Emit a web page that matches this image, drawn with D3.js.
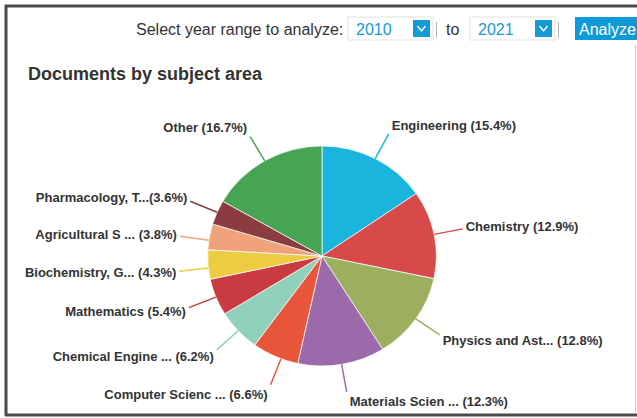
<html><head><meta charset="utf-8"><title>Documents by subject area</title>
<style>
body { margin: 0; background: #fff; font-family: Arial, "Liberation Sans", sans-serif; }
svg { display: block; }
</style>
<script src="https://d3js.org/d3.v7.min.js"></script>
</head>
<body>
<div id="chart"></div>
<script>
// data
const subjects = ["Engineering", "Chemistry", "Physics and Ast...", "Materials Scien ...",
    "Computer Scienc ...", "Chemical Engine ...", "Mathematics", "Biochemistry, G...",
    "Agricultural S ...", "Pharmacology, T...", "Other"];
const shares = [15.4, 12.9, 12.8, 12.3, 6.6, 6.2, 5.4, 4.3, 3.8, 3.6, 16.7];
const sliceColors = ["#19b5dd", "#d84949", "#9caf5f", "#9a6aab", "#e9553a", "#8fd1ba",
    "#c93a41", "#eccc40", "#f0a27b", "#8a3c41", "#46a453"];
const years = ["2010", "2021"];

const width = 637, height = 418;
const svg = d3.select("#chart").append("svg")
    .attr("width", width)
    .attr("height", height);

// frame
svg.append("path")
    .attr("d", `M6,416 V6 H637`)
    .attr("fill", "none")
    .attr("stroke", "#4a4a4a")
    .attr("stroke-width", 3);
svg.append("line")
    .attr("x1", 5).attr("x2", 637).attr("y1", 415).attr("y2", 415)
    .attr("stroke", "#4a4a4a").attr("stroke-width", 3);
svg.append("line")
    .attr("x1", 635.5).attr("x2", 635.5).attr("y1", 45).attr("y2", 414)
    .attr("stroke", "#c8c8c8").attr("stroke-width", 1);

// year range header
const head = svg.append("g").style("font-size", "16px");
head.append("text").attr("x", 136).attr("y", 35).attr("fill", "#333")
    .text("Select year range to analyze:");

function yearSelect(x, label) {
    const g = head.append("g").attr("transform", `translate(${x},17)`);
    g.append("rect").attr("width", 85).attr("height", 23)
        .attr("fill", "#fff").attr("stroke", "#e2e2e2");
    g.append("text").attr("x", 8).attr("y", 18).attr("fill", "#1a9ad6").text(label);
    g.append("rect").attr("x", 65).attr("y", 3).attr("width", 17).attr("height", 17)
        .attr("fill", "#149ad6");
    g.append("path").attr("d", "M69.5,9 L73.5,14 L77.5,9")
        .attr("fill", "none").attr("stroke", "#fff").attr("stroke-width", 1.4);
    g.append("line").attr("x1", 88.5).attr("x2", 88.5).attr("y1", 5).attr("y2", 21)
        .attr("stroke", "#b5b5b5");
}
yearSelect(348, years[0]);
head.append("text").attr("x", 446).attr("y", 35).attr("fill", "#333").text("to");
yearSelect(470, years[1]);

head.append("rect").attr("x", 575).attr("y", 17).attr("width", 70).attr("height", 23)
    .attr("fill", "#0e9ad6");
head.append("text").attr("x", 579).attr("y", 35).attr("fill", "#fff").text("Analyze");

// title
svg.append("text")
    .attr("x", 28).attr("y", 80)
    .attr("fill", "#333")
    .style("font-size", "18px")
    .style("font-weight", "bold")
    .text("Documents by subject area");

// pie
const cx = 322, cy = 256, r = 110, sx = 1.04;
const pie = d3.pie().sort(null).value(d => d);
const arc = d3.arc().innerRadius(0).outerRadius(r);
const arcs = pie(shares);

const pieG = svg.append("g")
    .attr("transform", `translate(${cx},${cy}) scale(${sx},1)`);
pieG.selectAll("path")
    .data(arcs)
    .join("path")
    .attr("d", arc)
    .attr("fill", (d, i) => sliceColors[i])
    .attr("stroke", "#fff")
    .attr("stroke-width", 0.7)
    .attr("stroke-linejoin", "round");

// labels: natural position on an outer ring, then pushed apart on each side
const R = 138, gap = 35;
const labels = arcs.map((d, i) => {
    const a = (d.startAngle + d.endAngle) / 2;
    return { i, side: Math.sin(a) >= 0 ? 1 : -1, y: cy - R * Math.cos(a) };
});
[1, -1].forEach(side => {
    const group = labels.filter(l => l.side === side).sort((a, b) => a.y - b.y);
    for (let k = 1; k < group.length; k++) {
        group[k].y = Math.max(group[k].y, group[k - 1].y + gap);
    }
});
labels.forEach(l => {
    const dy = Math.max(-R, Math.min(R, l.y - cy));
    const dx = Math.sqrt(R * R - dy * dy) * l.side;
    l.b = Math.atan2(dx, -dy);
    l.x1 = cx + r * Math.sin(l.b) * sx;
    l.y1 = cy - r * Math.cos(l.b);
    l.x2 = cx + dx * sx;
    l.y2 = cy + dy;
});

const labG = svg.append("g");
labG.selectAll("line")
    .data(labels)
    .join("line")
    .attr("x1", d => d.x1).attr("y1", d => d.y1)
    .attr("x2", d => d.x2).attr("y2", d => d.y2)
    .attr("stroke", d => sliceColors[d.i])
    .attr("stroke-width", 1.5);

labG.selectAll("text")
    .data(labels)
    .join("text")
    .attr("x", d => d.x2 + d.side * 3)
    .attr("y", d => d.y2 - Math.cos(d.b) * 10)
    .attr("dy", "0.35em")
    .attr("text-anchor", d => d.side > 0 ? "start" : "end")
    .attr("fill", "#333")
    .style("font-size", "13px")
    .style("font-weight", "bold")
    .text(d => {
        const name = subjects[d.i];
        const sep = name.endsWith("T...") ? "" : " ";
        return `${name}${sep}(${shares[d.i]}%)`;
    });
</script>
</body></html>
